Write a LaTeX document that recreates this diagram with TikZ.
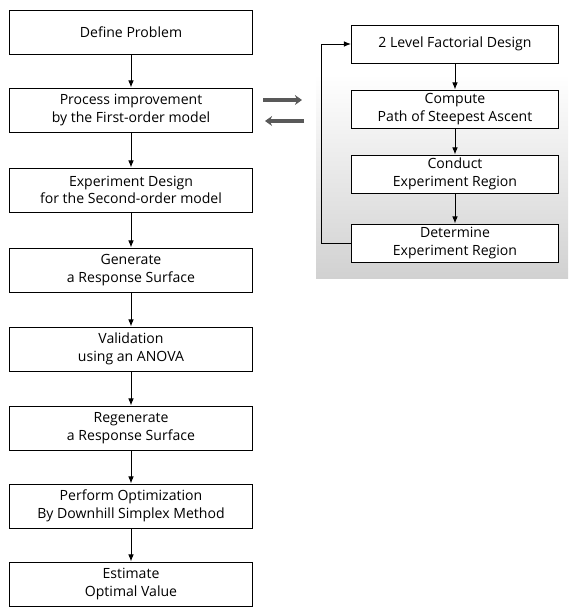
\documentclass[tikz,border=0pt]{standalone}
\usepackage{fontspec}
\setmainfont{Open Sans}
\usepackage{tikz}
\usetikzlibrary{arrows.meta}

\begin{document}
\begin{tikzpicture}[x=0.025cm,y=-0.025cm,
  stage/.style={draw,line width=0.7pt,align=center,minimum width=6.075cm,
    minimum height=1.1cm,inner sep=1pt,font=\fontsize{10}{12.5}\selectfont},
  substage/.style={stage,fill=white,minimum width=5.175cm,minimum height=0.95cm},
  flow/.style={-{Latex[length=5pt,width=4pt]},line width=0.7pt},
  swap/.style={-{Stealth[length=5pt,width=7pt]},line width=3.2pt,black!65}]
\useasboundingbox (0,0) rectangle (571,608);
% shaded backdrop of the first-order loop
\shade[top color=white,bottom color=black!18] (316,74) rectangle (568,278);

% main sequence
\node[stage] (def) at (131,32) {Define Problem};
\node[stage] (imp) at (131,110) {Process improvement\\by the First-order model};
\node[stage] (exp) at (131,190) {Experiment Design\\for the Second-order model};
\node[stage] (gen) at (131,270) {Generate\\a Response Surface};
\node[stage] (val) at (131,349) {Validation\\using an ANOVA};
\node[stage] (regen) at (131,428) {Regenerate\\a Response Surface};
\node[stage] (opt) at (131,506) {Perform Optimization\\By Downhill Simplex Method};
\node[stage] (est) at (131,584) {Estimate\\Optimal Value};
\foreach \a/\b in {def/imp,imp/exp,exp/gen,gen/val,val/regen,regen/opt,opt/est}
  \draw[flow] (\a) -- (\b);

% first-order loop
\node[substage] (fact) at (455,44) {2 Level Factorial Design};
\node[substage] (path) at (455,109) {Compute\\Path of Steepest Ascent};
\node[substage] (cond) at (455,174) {Conduct\\Experiment Region};
\node[substage] (det) at (455,243) {Determine\\Experiment Region};
\foreach \a/\b in {fact/path,path/cond,cond/det}
  \draw[flow] (\a) -- (\b);
\draw[flow] (det.west) -- ++(-29,0) |- (fact.west);

% exchange between the two parts
\coordinate (out0) at (263,100);
\coordinate (out1) at (302,100);
\coordinate (in0) at (304,121);
\coordinate (in1) at (265,121);
\draw[swap] (out0) -- (out1);
\draw[swap] (in0) -- (in1);
\end{tikzpicture}
\end{document}
